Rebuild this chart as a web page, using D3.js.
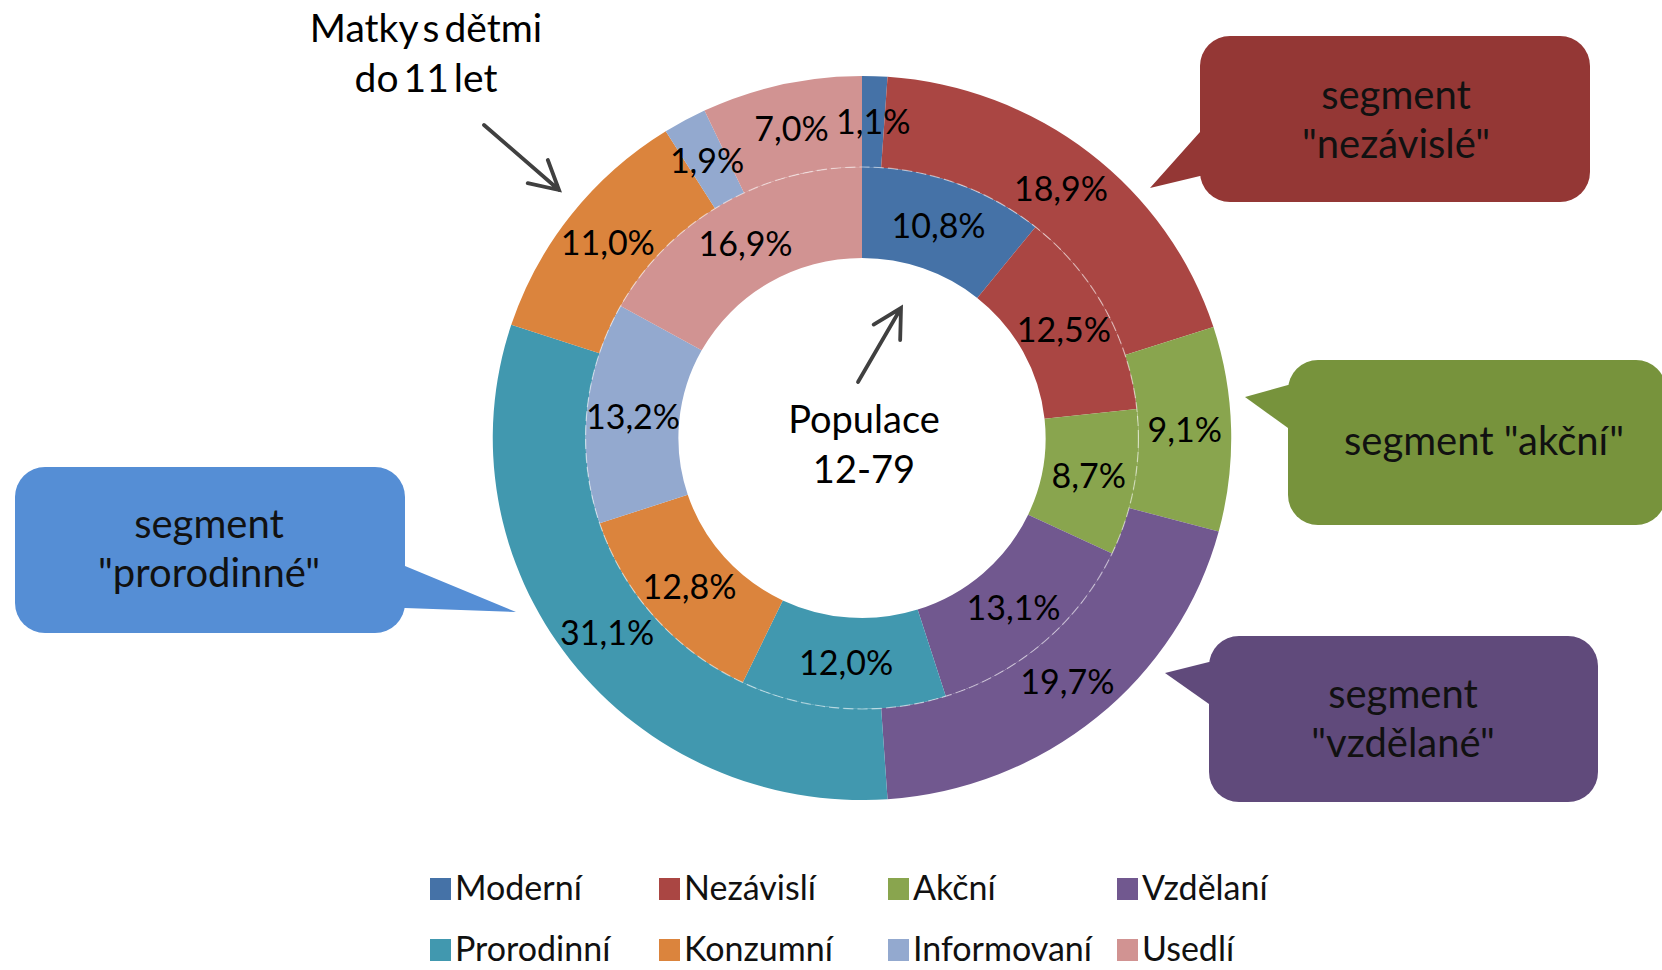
<!DOCTYPE html>
<html>
<head>
<meta charset="utf-8">
<script src="https://cdn.jsdelivr.net/npm/d3@7"></script>
<style>
  html, body { margin: 0; padding: 0; background: #fff; }
  svg { display: block; }
  text { font-family: Lato, "Open Sans", "Noto Sans", sans-serif; fill: #111; }
</style>
</head>
<body>
<svg id="chart" width="1662" height="970"></svg>
<script>
// ---- data ----
const categories = ["Moderní", "Nezávislí", "Akční", "Vzdělaní", "Prorodinní", "Konzumní", "Informovaní", "Usedlí"];
const populace   = [10.8, 12.5, 8.7, 13.1, 12.0, 12.8, 13.2, 16.9];   // inner ring: Populace 12-79
const matky      = [1.1, 18.9, 9.1, 19.7, 31.1, 11.0, 1.9, 7.0];      // outer ring: Matky s dětmi do 11 let
const colors     = ["#4572A7", "#AA4643", "#89A54E", "#71588F", "#4198AF", "#DB843D", "#93A9CF", "#D19392"];
const innerTitle = ["Populace", "12-79"];
const outerTitle = ["Matky s dětmi", "do 11 let"];
const callouts = [
  { lines: ["segment", "\"nezávislé\""], fill: "#943735" },
  { lines: ["segment \"akční\""],        fill: "#77933C" },
  { lines: ["segment", "\"vzdělané\""],  fill: "#604A7B" },
  { lines: ["segment", "\"prorodinné\""], fill: "#558ED5" }
];

const svg = d3.select("#chart");
const fmt = v => d3.format(".1f")(v).replace(".", ",") + "%";

// ---- geometry ----
const cx = 862, cy = 438, sx = 1.02;
const rHole = 180, rMid = 271, rOuter = 362;

const color = d3.scaleOrdinal().domain(categories).range(colors);
const pie = d3.pie().sort(null).value(d => d.v);

const innerData = pie(categories.map((c, i) => ({ c, v: populace[i] })));
const outerData = pie(categories.map((c, i) => ({ c, v: matky[i] })));

const arcInner = d3.arc().innerRadius(rHole).outerRadius(rMid);
const arcOuter = d3.arc().innerRadius(rMid).outerRadius(rOuter);

const g = svg.append("g").attr("transform", `translate(${cx},${cy}) scale(${sx},1)`);

g.selectAll("path.outer").data(outerData).join("path")
  .attr("class", "outer")
  .attr("d", arcOuter)
  .attr("fill", d => color(d.data.c));

g.selectAll("path.inner").data(innerData).join("path")
  .attr("class", "inner")
  .attr("d", arcInner)
  .attr("fill", d => color(d.data.c));

// faint white boundary between rings
g.append("circle").attr("r", rMid)
  .attr("fill", "none").attr("stroke", "#fff")
  .attr("stroke-width", 1.2).attr("stroke-opacity", 0.5)
  .attr("stroke-dasharray", "10,4");

// ---- value labels (at slice centroids) ----
const lg = svg.append("g").attr("transform", `translate(${cx},${cy})`);
function addLabels(data, arc) {
  lg.selectAll(null).data(data).join("text")
    .attr("x", d => arc.centroid(d)[0] * sx)
    .attr("y", d => arc.centroid(d)[1])
    .attr("dy", "0.36em")
    .attr("text-anchor", "middle")
    .style("font-size", "34px")
    .style("fill", "#000")
    .text(d => fmt(d.data.v));
}
addLabels(outerData, arcOuter);
addLabels(innerData, arcInner);

// ---- titles ----
svg.append("g").selectAll("text").data(innerTitle).join("text")
  .attr("x", 864).attr("y", (d, i) => 433 + i * 50)
  .attr("text-anchor", "middle")
  .style("font-size", "38px").style("fill", "#000")
  .text(d => d);

svg.append("g").selectAll("text").data(outerTitle).join("text")
  .attr("x", 426).attr("y", (d, i) => 42 + i * 50)
  .attr("text-anchor", "middle")
  .style("font-size", "39px").style("fill", "#000")
  .style("word-spacing", "-5px")
  .text(d => d);

// ---- arrows ----
function arrow(x1, y1, x2, y2) {
  const a = Math.atan2(y1 - y2, x1 - x2), L = 32, w = 0.5;
  const p1 = [x2 + L * Math.cos(a + w), y2 + L * Math.sin(a + w)];
  const p2 = [x2 + L * Math.cos(a - w), y2 + L * Math.sin(a - w)];
  const p = d3.path();
  p.moveTo(x1, y1); p.lineTo(x2, y2);
  p.moveTo(p1[0], p1[1]); p.lineTo(x2, y2); p.lineTo(p2[0], p2[1]);
  svg.append("path").attr("d", p.toString())
    .attr("fill", "none").attr("stroke", "#404040")
    .attr("stroke-width", 3.8).attr("stroke-linecap", "round").attr("stroke-linejoin", "miter");
}
arrow(484, 125, 559, 190);
arrow(858, 382, 901, 308);

// ---- callouts ----
const calloutLayout = [
  { x: 1200, y: 36,  w: 390, h: 166, tail: [[1200, 132], [1150, 188], [1200, 176]], tx: 1396, ty: 109 },
  { x: 1288, y: 360, w: 378, h: 165, tail: [[1288, 385], [1245, 397], [1288, 428]], tx: 1484, ty: 455 },
  { x: 1209, y: 636, w: 389, h: 166, tail: [[1209, 662], [1165, 673], [1209, 704]], tx: 1403, ty: 708 },
  { x: 15,   y: 467, w: 390, h: 166, tail: [[405, 566], [516, 612], [405, 608]],   tx: 209,  ty: 538 }
];
callouts.forEach((c, i) => {
  const L = calloutLayout[i];
  const cg = svg.append("g");
  cg.append("rect").attr("x", L.x).attr("y", L.y).attr("width", L.w).attr("height", L.h)
    .attr("rx", 30).attr("fill", c.fill);
  const t = L.tail;
  const inward = (t[1][0] < t[0][0]) ? 6 : -6;
  cg.append("path")
    .attr("d", `M${t[0][0] + inward},${t[0][1]} L${t[0][0]},${t[0][1]} L${t[1][0]},${t[1][1]} L${t[2][0]},${t[2][1]} L${t[2][0] + inward},${t[2][1]} Z`)
    .attr("fill", c.fill);
  cg.selectAll("text").data(c.lines).join("text")
    .attr("x", L.tx).attr("y", (d, j) => L.ty + j * 49)
    .attr("text-anchor", "middle")
    .style("font-size", "40px").style("fill", "#111")
    .text(d => d);
});

// ---- legend ----
const legX = d3.scaleLinear().domain([0, 1]).range([430, 659]);
const legY = d3.scaleLinear().domain([0, 1]).range([878, 939]);
const leg = svg.append("g").selectAll("g").data(categories).join("g")
  .attr("transform", (d, i) => `translate(${legX(i % 4)},${legY(Math.floor(i / 4))})`);
leg.append("rect").attr("width", 21).attr("height", 22).attr("fill", d => color(d));
leg.append("text").attr("x", 25).attr("y", 22)
  .style("font-size", "34px").style("fill", "#111")
  .text(d => d);
</script>
</body>
</html>
